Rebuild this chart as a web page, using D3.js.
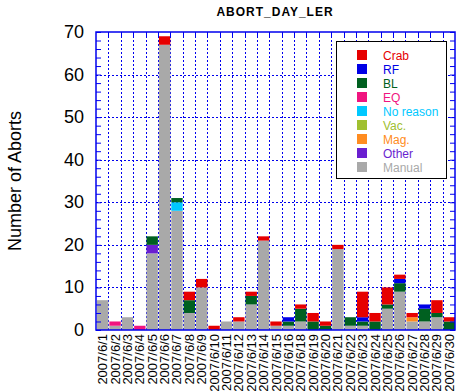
<!DOCTYPE html>
<html><head><meta charset="utf-8">
<script src="https://cdn.jsdelivr.net/npm/d3@7"></script>
<style>body{margin:0;background:#fff;}svg{display:block;font-family:"Liberation Sans",Arial,sans-serif;}</style>
</head><body><svg id="c" width="468" height="391"></svg>
<script>
const dates = ["2007/6/1","2007/6/2","2007/6/3","2007/6/4","2007/6/5","2007/6/6","2007/6/7","2007/6/8","2007/6/9","2007/6/10","2007/6/11","2007/6/12","2007/6/13","2007/6/14","2007/6/15","2007/6/16","2007/6/18","2007/6/19","2007/6/20","2007/6/21","2007/6/22","2007/6/23","2007/6/24","2007/6/25","2007/6/26","2007/6/27","2007/6/28","2007/6/29","2007/6/30"];
const manual   = [7,1,3,0,18,67,28,4,10,0,2,2,6,21,1,1,2,0,0,19,1,1,0,5,9,2,2,3,0];
const other    = [0,0,0,0,2,0,0,0,0,0,0,0,0,0,0,0,0,0,0,0,0,0,0,0,0,0,0,0,0];
const mag      = [0,0,0,0,0,0,0,0,0,0,0,0,0,0,0,0,0,0,0,0,0,0,0,0,0,1,0,0,0];
const vac      = [0,0,0,0,0,0,0,0,0,0,0,0,0,0,0,0,0,0,0,0,0,0,0,0,0,0,0,0,0];
const noReason = [0,0,0,0,0,0,2,0,0,0,0,0,0,0,0,0,0,0,0,0,0,0,0,0,0,0,0,0,0];
const eq       = [0,1,0,1,0,0,0,0,0,0,0,0,0,0,0,0,0,0,0,0,0,0,0,0,0,0,0,0,0];
const bl       = [0,0,0,0,2,0,1,3,0,0,0,0,2,0,0,1,3,2,1,0,2,1,2,1,2,0,3,1,2];
const rf       = [0,0,0,0,0,0,0,0,0,0,0,0,0,0,0,1,0,0,0,0,0,1,0,0,1,0,1,0,0];
const crab     = [0,0,0,0,0,2,0,2,2,1,0,1,1,1,1,0,1,2,1,1,0,6,2,4,1,1,0,3,1];
const yTicks = [0,10,20,30,40,50,60,70];

const seriesNames  = ["Crab","RF","BL","EQ","No reason","Vac.","Mag.","Other","Manual"];
const seriesColors = ["#e60000","#0000e6","#006020","#f0147f","#00c8ff","#a0c030","#ff8c20","#6a1fd0","#a9a9a9"];
const seriesData   = [crab,rf,bl,eq,noReason,vac,mag,other,manual];
// stacking order bottom -> top
const stackKeys = ["Manual","Other","Mag.","Vac.","No reason","EQ","BL","RF","Crab"];

const rows = dates.map((d,i)=>{const r={date:d}; seriesNames.forEach((n,j)=>r[n]=seriesData[j][i]); return r;});
const color = d3.scaleOrdinal(seriesNames, seriesColors);

const svg = d3.select("#c");
const L=96, R=455, T=32, B=330;
const xb = d3.scaleBand(dates,[L,R]);
const y = d3.scaleLinear([0,70],[B,T]);

const stacked = d3.stack().keys(stackKeys)(rows);

const blue = "#0000ee";
const g = svg.append("g");
g.selectAll("line.vg").data(dates.slice(1)).join("line")
  .attr("x1",d=>Math.round(xb(d))+0.5).attr("x2",d=>Math.round(xb(d))+0.5).attr("y1",T).attr("y2",B)
  .attr("stroke",blue).attr("stroke-width",1).attr("stroke-dasharray","2,2");
g.selectAll("line.hg").data(yTicks.filter(v=>v>0&&v<70)).join("line")
  .attr("x1",L).attr("x2",R).attr("y1",d=>Math.round(y(d))+0.5).attr("y2",d=>Math.round(y(d))+0.5)
  .attr("stroke",blue).attr("stroke-width",1).attr("stroke-dasharray","2,2");

// bars
svg.append("g").selectAll("g").data(stacked).join("g")
  .attr("fill",d=>color(d.key))
  .selectAll("rect").data(d=>d.filter(p=>p[1]>p[0])).join("rect")
  .attr("x",p=>xb(p.data.date)+1).attr("width",xb.bandwidth()-1)
  .attr("y",p=>y(p[1])).attr("height",p=>y(p[0])-y(p[1]));

// axes frame with ticks
const minor = d3.range(0,71,2);
const leftAxis = d3.axisRight(y).tickValues(minor).tickSize(5).tickFormat("");
const rightAxis = d3.axisLeft(y).tickValues(minor).tickSize(5).tickFormat("");
function styleAxis(sel){sel.selectAll("path,line").attr("stroke",blue);sel.select(".domain").remove();}
svg.append("g").attr("transform",`translate(${L},0)`).call(leftAxis).call(styleAxis);
svg.append("g").attr("transform",`translate(${R},0)`).call(rightAxis).call(styleAxis);
svg.append("g").selectAll("line").data(dates.slice(1)).join("line")
  .attr("x1",d=>Math.round(xb(d))+0.5).attr("x2",d=>Math.round(xb(d))+0.5).attr("y1",T).attr("y2",T+6)
  .attr("stroke",blue);
svg.append("rect").attr("x",L).attr("y",T).attr("width",R-L).attr("height",B-T)
  .attr("fill","none").attr("stroke",blue).attr("stroke-width",1.5);

// y tick labels
svg.append("g").selectAll("text").data(yTicks).join("text")
  .attr("x",84).attr("y",d=>y(d)+6).attr("text-anchor","end")
  .attr("font-size",18).attr("fill","#000").text(d=>d);

// x labels
svg.append("g").selectAll("text").data(dates).join("text")
  .attr("transform",d=>`translate(${xb(d)+xb.bandwidth()/2+5},${B+4}) rotate(-90)`)
  .attr("text-anchor","end").attr("font-size",13).attr("fill","#000").text(d=>d);

// title
svg.append("text").attr("x",275).attr("y",16).attr("text-anchor","middle")
  .attr("font-size",12).attr("font-weight","bold").attr("letter-spacing",1).text("ABORT_DAY_LER");
// y label
svg.append("text").attr("transform","translate(21,181) rotate(-90)").attr("text-anchor","middle")
  .attr("font-size",18).text("Number of Aborts");

// legend
const lg = svg.append("g");
lg.append("rect").attr("x",336.5).attr("y",41.5).attr("width",110).attr("height",137)
  .attr("fill","#fff").attr("stroke","#000").attr("stroke-width",1);
const li = lg.selectAll("g").data(seriesNames).join("g")
  .attr("transform",(d,i)=>`translate(0,${50+i*14})`);
li.append("rect").attr("x",357).attr("y",0).attr("width",10).attr("height",10).attr("fill",d=>color(d));
li.append("text").attr("x",383).attr("y",9.5).attr("font-size",12).attr("fill",d=>color(d)).text(d=>d);
</script></body></html>
